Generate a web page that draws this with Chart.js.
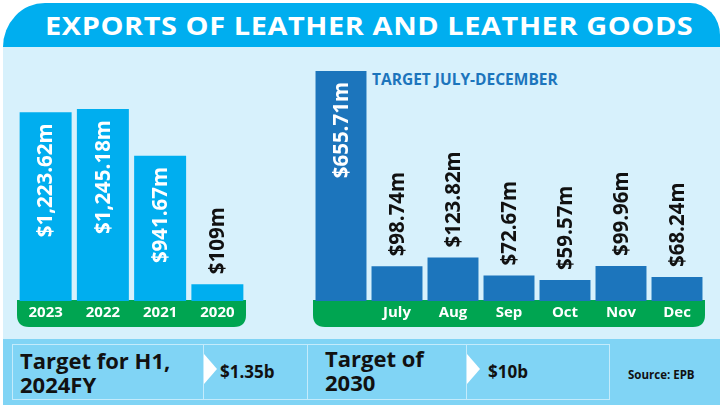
<!DOCTYPE html>
<html>
<head>
<meta charset="utf-8">
<script src="https://cdn.jsdelivr.net/npm/chart.js@4.4.1/dist/chart.umd.min.js"></script>
<style>
    html, body {
        margin: 0;
        padding: 0;
        background: #ffffff;
    }

    #stage {
        position: relative;
        width: 725px;
        height: 407px;
        overflow: hidden;
        font-family: "Open Sans", sans-serif;
        font-weight: 700;
    }

    .abs {
        position: absolute;
    }

    #header {
        left: 3px;
        top: 3px;
        width: 717px;
        height: 44px;
        background: #00aeef;
        border-radius: 42px 30px 0 0 / 44px 32px 0 0;
    }

    #title {
        left: 45px;
        top: 3px;
        height: 44px;
        line-height: 44px;
        color: #ffffff;
        font-size: 25px;
        letter-spacing: 0.5px;
        white-space: nowrap;
        transform-origin: 0 50%;
    }

    #panel {
        left: 3px;
        top: 47px;
        width: 717px;
        height: 292px;
        background: #d7f1fc;
    }

    #band {
        left: 3px;
        top: 339px;
        width: 717px;
        height: 66px;
        background: #80d4f5;
    }

    .box {
        top: 344px;
        height: 54px;
        border: 1px solid #c4ebfb;
    }

    .big {
        color: #111111;
        font-size: 22px;
        line-height: 24px;
        white-space: nowrap;
    }

    .num {
        color: #111111;
        font-size: 17px;
        line-height: 20px;
        top: 362px;
        white-space: nowrap;
    }

    .arrow {
        top: 354px;
        width: 0;
        height: 0;
        border-top: 15px solid transparent;
        border-bottom: 15px solid transparent;
        border-left: 13px solid #ffffff;
    }

    #targetTitle {
        left: 372px;
        top: 68px;
        color: #1c75bc;
        font-size: 15.5px;
        white-space: nowrap;
    }

    canvas {
        position: absolute;
    }
</style>
</head>
<body>
<div id="stage">

    <div id="header" class="abs"></div>
    <div id="title" class="abs">EXPORTS OF LEATHER AND LEATHER GOODS</div>
    <div id="panel" class="abs"></div>
    <div id="band" class="abs"></div>

    <div class="abs box" style="left:12px; width:190px;"></div>
    <div class="abs box" style="left:203px; width:103px;"></div>
    <div class="abs box" style="left:307px; width:158px;"></div>
    <div class="abs box" style="left:466px; width:142px;"></div>

    <div class="abs arrow" style="left:204px;"></div>
    <div class="abs arrow" style="left:467px;"></div>

    <div class="abs big" style="left:20px; top:348px;">Target for H1,<br>2024FY</div>
    <div class="abs num" style="left:220px;">$1.35b</div>
    <div class="abs big" style="left:325px; top:346px;">Target of<br>2030</div>
    <div class="abs num" style="left:488px;">$10b</div>
    <div class="abs num" style="left:628px; top:365px; font-size:11.5px;">Source: EPB</div>

    <div id="targetTitle" class="abs">TARGET JULY-DECEMBER</div>

    <canvas id="yearChart" width="229" height="280" style="left:17px; top:50px;"></canvas>
    <canvas id="monthChart" width="392" height="280" style="left:313px; top:50px;"></canvas>

</div>

<script>

/*
============================================================
Data
============================================================
*/

const yearLabels = ["2023", "2022", "2021", "2020"];

const yearValues = [1223.62, 1245.18, 941.67, 109];

const yearTexts = ["$1,223.62m", "$1,245.18m", "$941.67m", "$109m"];

const monthLabels = ["", "July", "Aug", "Sep", "Oct", "Nov", "Dec"];

const monthValues = [655.71, 98.74, 123.82, 72.67, 59.57, 99.96, 68.24];

const monthTexts = ["$655.71m", "$98.74m", "$123.82m", "$72.67m", "$59.57m", "$99.96m", "$68.24m"];

/*
============================================================
Title Width
============================================================
*/

// stretch the banner title to the width it has in the print layout
const title = document.getElementById("title");

title.style.transform = "scaleX(" + (648 / title.offsetWidth) + ")";

/*
============================================================
Plugins
============================================================
*/

// green rounded strip behind the category labels
const stripPlugin = {

    id: "strip",

    beforeDraw(chart) {

        const ctx = chart.ctx;
        const area = chart.chartArea;

        const x = area.left;
        const y = area.bottom - 1;
        const w = area.right - area.left;
        const h = 27;
        const r = 12;

        ctx.save();
        ctx.fillStyle = "#00a551";
        ctx.beginPath();
        ctx.moveTo(x, y);
        ctx.lineTo(x + w, y);
        ctx.lineTo(x + w, y + h - r);
        ctx.quadraticCurveTo(x + w, y + h, x + w - r, y + h);
        ctx.lineTo(x + r, y + h);
        ctx.quadraticCurveTo(x, y + h, x, y + h - r);
        ctx.closePath();
        ctx.fill();
        ctx.restore();

    }

};

// rotated value labels, inside tall bars and above short ones
const valuePlugin = {

    id: "values",

    afterDatasetsDraw(chart, args, opts) {

        const ctx = chart.ctx;
        const meta = chart.getDatasetMeta(0);
        const texts = opts.texts;

        ctx.save();
        ctx.font = "700 20.5px 'Open Sans'";
        ctx.textBaseline = "middle";

        meta.data.forEach((bar, i) => {

            const text = texts[i];
            const width = ctx.measureText(text).width;
            const height = bar.base - bar.y;

            ctx.save();

            if (height > width + 24) {

                ctx.translate(bar.x, bar.y + 11);
                ctx.rotate(-Math.PI / 2);
                ctx.textAlign = "right";
                ctx.fillStyle = "#ffffff";

            } else {

                ctx.translate(bar.x, bar.y - 10);
                ctx.rotate(-Math.PI / 2);
                ctx.textAlign = "left";
                ctx.fillStyle = "#111111";

            }

            ctx.fillText(text, 0, 1);
            ctx.restore();

        });

        ctx.restore();

    }

};

/*
============================================================
Chart Builder
============================================================
*/

function makeChart(id, labels, values, texts, color, yMax, barPct) {

    return new Chart(

        document.getElementById(id),

        {

            type: "bar",

            data: {

                labels: labels,

                datasets: [

                    {

                        data: values,

                        backgroundColor: color,

                        borderWidth: 0,

                        barPercentage: barPct,

                        categoryPercentage: 1

                    }

                ]

            },

            options: {

                responsive: false,

                animation: false,

                layout: {

                    padding: 0

                },

                plugins: {

                    legend: { display: false },

                    tooltip: { enabled: false },

                    values: { texts: texts }

                },

                scales: {

                    x: {

                        grid: { display: false, drawTicks: false },

                        border: { display: false },

                        ticks: {

                            color: "#ffffff",

                            padding: 3,

                            maxRotation: 0,

                            autoSkip: false,

                            font: {

                                family: "'Open Sans'",

                                size: 15,

                                weight: "700"

                            }

                        },

                        afterFit(scale) {

                            scale.height = 29;

                        }

                    },

                    y: {

                        display: false,

                        min: 0,

                        max: yMax

                    }

                }

            },

            plugins: [stripPlugin, valuePlugin]

        }

    );

}

makeChart("yearChart", yearLabels, yearValues, yearTexts, "#00aeef", 1628, 0.908);

makeChart("monthChart", monthLabels, monthValues, monthTexts, "#1c75bc", 715.5, 0.91);

</script>
</body>
</html>
